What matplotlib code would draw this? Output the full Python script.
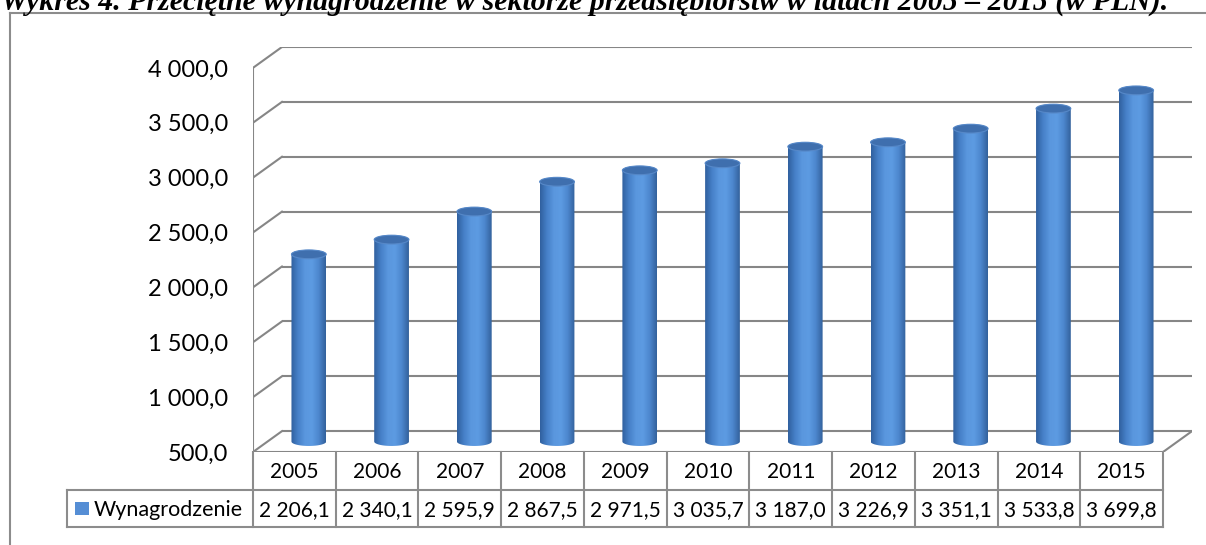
import numpy as np
import matplotlib
matplotlib.use("Agg")
import matplotlib.pyplot as plt
from matplotlib.path import Path
from matplotlib.patches import PathPatch, Ellipse, Rectangle
from matplotlib.colors import LinearSegmentedColormap
from matplotlib.lines import Line2D

years = ["2005", "2006", "2007", "2008", "2009", "2010",
         "2011", "2012", "2013", "2014", "2015"]
wages = [2206.1, 2340.1, 2595.9, 2867.5, 2971.5, 3035.7,
         3187.0, 3226.9, 3351.1, 3533.8, 3699.8]
series_name = "Wynagrodzenie"
y_ticks = [500, 1000, 1500, 2000, 2500, 3000, 3500, 4000]
title = "Wykres 4. Przeciętne wynagrodzenie w sektorze przedsiębiorstw w latach 2005 – 2015 (w PLN)."

W, H = 1206, 545
GRID = "#868686"
FONT = "Lato"

# depth of the 3d box, in data units
DX = 0.35
DY = 190
BW = 0.42      # cylinder width
EH = 80        # cylinder ellipse height (value units)


def pl(v):
    # polish number format: "2 206,1"
    return ("{:,.1f}".format(v)).replace(",", " ").replace(".", ",")


fig = plt.figure(figsize=(W / 100, H / 100), dpi=100)

# chart area: front-left edge at x=253px, floor at y=452px
left, right, bottom, top = 253, 1192, 452, 47
ax = fig.add_axes([left / W, 1 - bottom / H, (right - left) / W, (bottom - top) / H])
n = len(years)
xmin, xmax = -0.5, n - 0.5 + DX
ymin, ymax = y_ticks[0], y_ticks[-1] + DY

# back wall gridlines + side wall diagonals
for v in y_ticks:
    ax.plot([xmin + DX, xmax], [v + DY, v + DY], color=GRID, lw=1.5, solid_capstyle="butt")
    ax.plot([xmin, xmin + DX], [v, v + DY], color=GRID, lw=1.5)
ax.plot([xmin, xmin], [y_ticks[0], y_ticks[-1]], color=GRID, lw=1.5)
# floor front edge and right diagonal
ax.plot([xmin, n - 0.5], [y_ticks[0], y_ticks[0]], color=GRID, lw=1.5)
ax.plot([n - 0.5, xmax], [y_ticks[0], y_ticks[0] + DY], color=GRID, lw=1.5)

cmap = LinearSegmentedColormap.from_list(
    "cyl", ["#30609e", "#4680c8", "#5a97de", "#5d9be2", "#4c86cd", "#33619c"])
grad = np.linspace(0, 1, 200).reshape(1, -1)

for i, v in enumerate(wages):
    cx = i + DX / 2
    y0 = y_ticks[0] + DY / 2
    y1 = v + DY / 2
    hw = BW / 2
    t = np.linspace(np.pi, 2 * np.pi, 40)
    bot = np.column_stack([cx + hw * np.cos(t), y0 + EH / 2 * np.sin(t)])
    t2 = np.linspace(0, np.pi, 40)
    tp = np.column_stack([cx + hw * np.cos(t2), y1 + EH / 2 * np.sin(t2)])
    verts = np.vstack([[[cx - hw, y1]], bot, [[cx + hw, y1]], tp])
    body = PathPatch(Path(verts, closed=False), facecolor="none", edgecolor="none")
    ax.add_patch(body)
    im = ax.imshow(grad, cmap=cmap, aspect="auto",
                   extent=(cx - hw, cx + hw, y0 - EH / 2, y1 + EH / 2), zorder=3)
    im.set_clip_path(body)
    ax.add_patch(Ellipse((cx, y1), BW, EH, facecolor="#3f6fae",
                         edgecolor="#5688c8", lw=0.8, zorder=4))

ax.set_xlim(xmin, xmax)
ax.set_ylim(ymin, ymax)
ax.set_yticks(y_ticks)
ax.set_yticklabels([pl(v) for v in y_ticks], fontsize=17, fontfamily=FONT)
ax.tick_params(axis="y", length=0, pad=18)
ax.set_xticks([])
for s in ax.spines.values():
    s.set_visible(False)
ax.patch.set_alpha(0)

# data table under the chart
tb = 527
tax = fig.add_axes([left / W, 1 - tb / H, (right - left) / W, (tb - bottom) / H])
tax.set_xlim(xmin, xmax)
tax.set_ylim(0, 2)
tax.axis("off")
px = (right - left) / (xmax - xmin)
leg_x = xmin - (left - 67) / px
lc = dict(color="#8c8c8c", lw=1.5, clip_on=False)
for k in range(n + 1):
    tax.plot([xmin + k, xmin + k], [0, 2], **lc)
tax.plot([leg_x, n - 0.5], [1, 1], **lc)
tax.plot([leg_x, n - 0.5], [0, 0], **lc)
tax.plot([leg_x, leg_x], [0, 1], **lc)
for i in range(n):
    tax.text(i, 1.46, years[i], ha="center", va="center", fontsize=15, fontfamily=FONT)
    tax.text(i, 0.46, pl(wages[i]), ha="center", va="center", fontsize=15, fontfamily=FONT)
tax.add_patch(Rectangle((leg_x + 8 / px, 0.32), 14 / px, 0.36, facecolor="#558ed5",
                        edgecolor="none", clip_on=False))
tax.text(leg_x + 27 / px, 0.46, series_name, ha="left", va="center", fontsize=15.5,
         fontfamily=FONT)

# outer frame and title
fig.add_artist(Line2D([10 / W, 10 / W], [0, 1 - 13 / H], color="#8c8c8c", lw=1.5))
fig.add_artist(Line2D([10 / W, 1], [1 - 13 / H, 1 - 13 / H], color="#8c8c8c", lw=1.5))
fig.text(1 / W, 1 - 10 / H, title, ha="left", va="baseline", fontsize=21.5,
         fontfamily="Liberation Serif", fontweight="bold", fontstyle="italic")

fig.savefig("out.png", dpi=100)
